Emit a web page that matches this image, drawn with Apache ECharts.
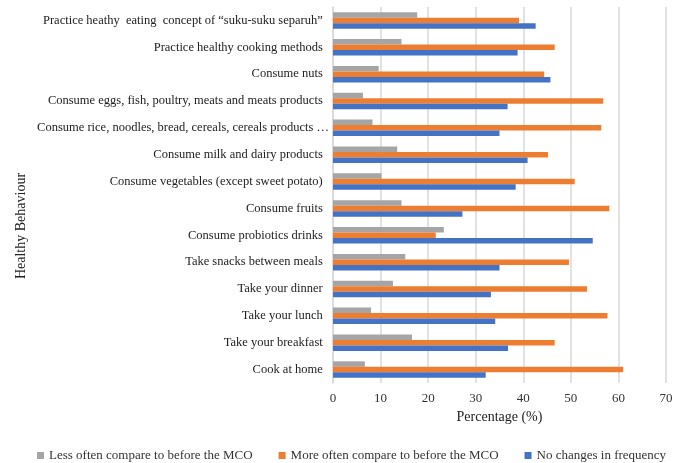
<!DOCTYPE html>
<html>
<head>
<meta charset="utf-8">
<script src="https://cdn.jsdelivr.net/npm/echarts@6/dist/echarts.min.js"></script>
<style>
    html, body { margin: 0; padding: 0; background: #fff; }
    #chart { width: 683px; height: 463px; }
</style>
</head>
<body>
<div id="chart"></div>
<script>
// categories listed bottom -> top (category y axis starts at the bottom)
const categories = [
    'Cook at home',
    'Take your breakfast',
    'Take your lunch',
    'Take your dinner',
    'Take snacks between meals',
    'Consume probiotics drinks',
    'Consume fruits',
    'Consume vegetables (except sweet potato)',
    'Consume milk and dairy products',
    'Consume rice, noodles, bread, cereals, cereals products and tubers',
    'Consume eggs, fish, poultry, meats and meats products',
    'Consume nuts',
    'Practice healthy cooking methods',
    'Practice heathy  eating  concept of “suku-suku separuh”'
];
const lessOften = [6.7, 16.6, 8.0, 12.6, 15.2, 23.3, 14.4, 10.2, 13.5, 8.3, 6.3, 9.6, 14.4, 17.7];
const moreOften = [61.0, 46.6, 57.7, 53.4, 49.6, 21.6, 58.1, 50.8, 45.2, 56.4, 56.8, 44.4, 46.6, 39.1];
const noChanges = [32.1, 36.8, 34.1, 33.2, 35.0, 54.6, 27.2, 38.4, 40.9, 35.0, 36.7, 45.7, 38.8, 42.6];
const xTicks = [0, 10, 20, 30, 40, 50, 60, 70];

const seriesNames = [
    'Less often compare to before the MCO',
    'More often compare to before the MCO',
    'No changes in frequency'
];

const myChart = echarts.init(document.getElementById('chart'));
const font = '"Liberation Serif", "Times New Roman", serif';

const option = {
    animation: false,
    textStyle: { fontFamily: font },
    grid: {
        left: 333,
        right: 17,
        top: 7,
        bottom: 80
    },
    legend: {
        data: seriesNames,
        top: 444,
        left: 32,
        itemWidth: 7,
        itemHeight: 7,
        itemGap: 26,
        icon: 'rect',
        textStyle: { fontFamily: font, fontSize: 13, color: '#333' }
    },
    xAxis: {
        type: 'value',
        min: xTicks[0],
        max: xTicks[xTicks.length - 1],
        interval: 10,
        name: 'Percentage (%)',
        nameLocation: 'middle',
        nameGap: 21,
        nameTextStyle: { fontFamily: font, fontSize: 14, color: '#222' },
        axisLine: { show: false },
        axisTick: { show: false },
        axisLabel: { fontFamily: font, fontSize: 13, color: '#333', margin: 9 },
        splitLine: { show: true, lineStyle: { color: '#d9d9d9', width: 1.5 } }
    },
    yAxis: {
        type: 'category',
        data: categories,
        axisLine: { show: true, lineStyle: { color: '#d9d9d9', width: 1.5 } },
        axisTick: { show: false },
        axisLabel: {
            fontFamily: font,
            fontSize: 12.5,
            color: '#222',
            margin: 4,
            width: 298,
            overflow: 'truncate',
            ellipsis: '…',
            formatter: function (v) {
                // Excel-style right padding except for the truncated long label
                return v.length > 60 ? v : v + '  ';
            }
        }
    },
    graphic: [
        {
            type: 'text',
            x: 21,
            y: 226,
            rotation: Math.PI / 2,
            style: {
                text: 'Healthy Behaviour',
                font: '14px ' + font,
                fill: '#222',
                align: 'center',
                verticalAlign: 'middle'
            }
        }
    ],
    series: [
        {
            name: seriesNames[0],
            type: 'bar',
            data: lessOften,
            barWidth: 5.5,
            barGap: '0%',
            itemStyle: { color: '#a5a5a5' }
        },
        {
            name: seriesNames[1],
            type: 'bar',
            data: moreOften,
            barWidth: 5.5,
            barGap: '0%',
            itemStyle: { color: '#ed7d31' }
        },
        {
            name: seriesNames[2],
            type: 'bar',
            data: noChanges,
            barWidth: 5.5,
            barGap: '0%',
            itemStyle: { color: '#4472c4' }
        }
    ]
};

myChart.setOption(option);
</script>
</body>
</html>
